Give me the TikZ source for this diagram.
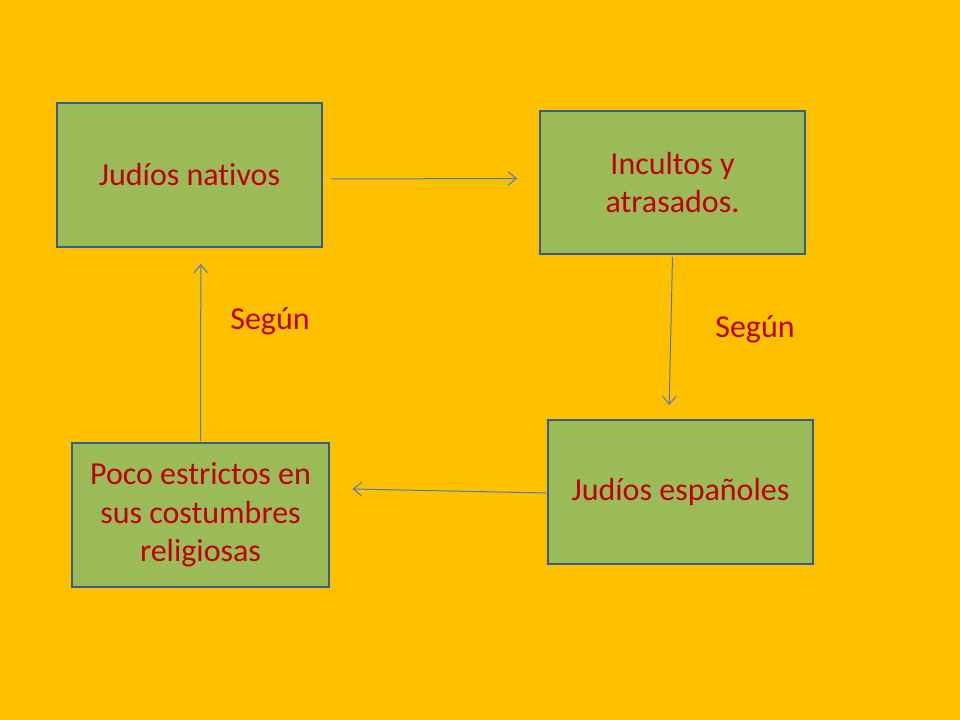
\documentclass[tikz,border=0pt]{standalone}
\usepackage{fontspec}
\setmainfont{Carlito}[RawFeature=-liga]
\usetikzlibrary{positioning, arrows.meta}
\definecolor{bg}{RGB}{255,192,0}
\definecolor{boxgreen}{RGB}{155,187,89}
\definecolor{boxblue}{RGB}{56,93,138}
\definecolor{txtred}{RGB}{192,0,0}
\definecolor{arrowblue}{RGB}{74,126,187}
\tikzstyle{box}=[rectangle, draw=boxblue, fill=boxgreen, line width=1.5pt, text=txtred, align=center, font=\fontsize{24}{29}\selectfont]
\tikzstyle{link}=[draw=arrowblue, line width=0.75pt, -{Straight Barb[length=6pt, width=10pt]}]
\tikzstyle{lbl}=[text=txtred, font=\fontsize{24}{29}\selectfont]

\begin{document}
\begin{tikzpicture}[x=0.75pt, y=-0.75pt]
            %slide background
            \fill[bg] (0,0) rectangle (960,720);
            \useasboundingbox (0,0) rectangle (960,720);
            \node[box, minimum width=198.75pt, minimum height=108pt](nat) at (189.5,175){Judíos nativos};
            \node[box, minimum width=198.75pt, minimum height=107.25pt](inc) at (672.5,182.5){Incultos y\\atrasados.};
            \node[box, minimum width=198.75pt, minimum height=108pt](esp) at (680.5,492){Judíos españoles};
            \node[box, minimum width=192.75pt, minimum height=108pt](poc) at (200.5,515){Poco estrictos en\\sus costumbres\\religiosas};
            \node[lbl](s1) at (270,321.5){Según};
            \node[lbl](s2) at (755,329.5){Según};
            \draw[link] ([xshift=6pt, yshift=-3pt]nat.east) -- ([xshift=-16.5pt, yshift=3pt]inc.west);
            \draw[link] ([yshift=-1.5pt]inc.south) -- ([xshift=-8.5pt, yshift=10.5pt]esp.north);
            \draw[link] ([xshift=-0.75pt, yshift=-0.75pt]esp.west) -- ([xshift=17pt, yshift=19.5pt]poc.east);
            \draw[link] ([yshift=0.75pt]poc.north) -- ([xshift=8.5pt, yshift=-12pt]nat.south);
        \end{tikzpicture}
\end{document}
